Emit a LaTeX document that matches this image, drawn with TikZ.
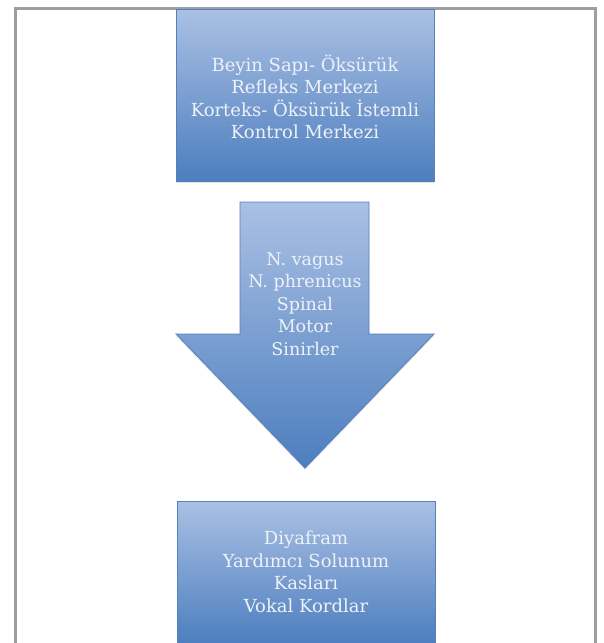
\documentclass[tikz,border=0pt]{standalone}
\usepackage{fontspec}
\setmainfont{DejaVu Serif}
\usetikzlibrary{shadows}
\definecolor{gtop}{RGB}{170,192,228}
\definecolor{gbot}{RGB}{76,126,190}
\definecolor{edge}{RGB}{84,128,188}
\definecolor{frame}{RGB}{158,158,162}
\definecolor{txt}{RGB}{238,242,248}
\tikzset{
  bluebox/.style={draw=edge, line width=0.8pt, top color=gtop, bottom color=gbot,
    minimum width=258pt, inner sep=0pt, anchor=north west,
    drop shadow={shadow xshift=0pt, shadow yshift=-2pt, opacity=0.25}},
  lbl/.style={text=txt, font=\fontsize{18}{22.5}\selectfont, align=center},
}
\begin{document}
\begin{tikzpicture}[x=1pt,y=-1pt]
\useasboundingbox (0,0) rectangle (603,643);
% outer frame
\draw[frame, line width=3pt] (15,660) -- (15,8) -- (595,8) -- (595,660);
% top box
\node[bluebox, minimum height=172pt] (top) at (176,9) {};
\node[lbl] (toptxt) at (305,97) {Beyin Sapı- Öksürük\\Refleks Merkezi\\Korteks- Öksürük İstemli\\Kontrol Merkezi};
% arrow
\coordinate (a1) at (240,202);
\coordinate (a2) at (369,202);
\coordinate (a3) at (369,334);
\coordinate (a4) at (434,334);
\coordinate (a5) at (305,468);
\coordinate (a6) at (176,334);
\coordinate (a7) at (240,334);
\path[draw=edge, line width=0.8pt, top color=gtop, bottom color=gbot,
  drop shadow={shadow xshift=0pt, shadow yshift=-2pt, opacity=0.2}]
  (a1) -- (a2) -- (a3) -- (a4) -- (a5) -- (a6) -- (a7) -- cycle;
\node[lbl, font=\fontsize{17.5}{22.5}\selectfont] (arrtxt) at (305,304) {N. vagus\\N. phrenicus\\Spinal\\Motor\\Sinirler};
% bottom box
\node[bluebox, minimum height=143pt] (bot) at (177,501) {};
\node[lbl] (bottxt) at (306,572) {Diyafram\\Yardımcı Solunum\\Kasları\\Vokal Kordlar};
\end{tikzpicture}
\end{document}
